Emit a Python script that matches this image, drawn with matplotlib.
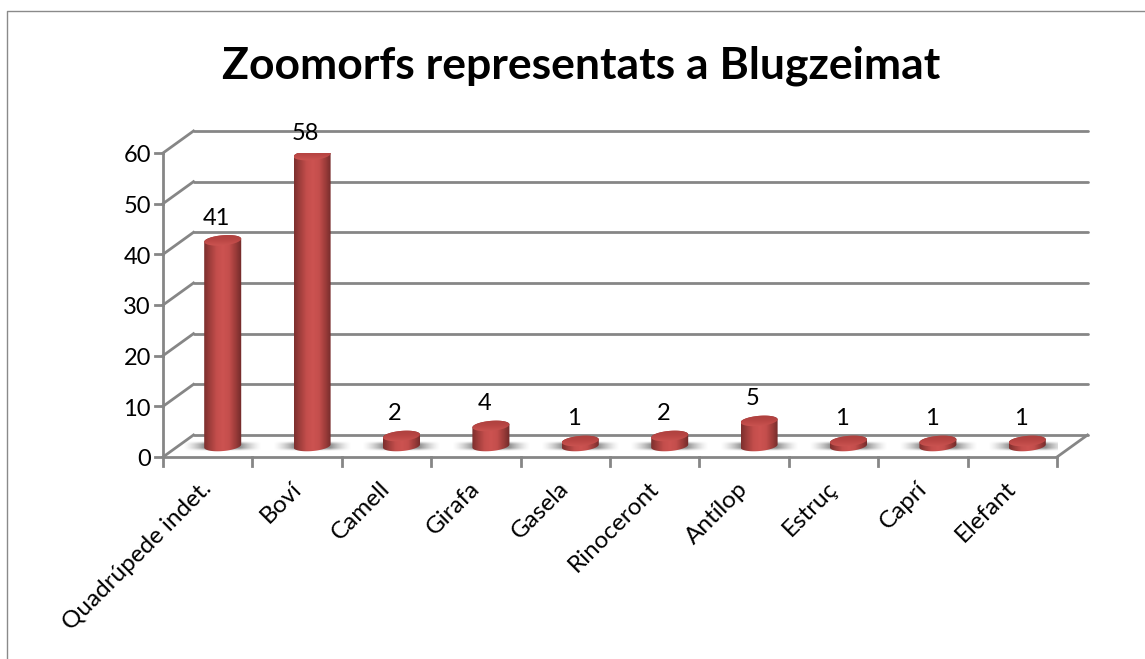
import numpy as np
import matplotlib
matplotlib.use("Agg")
import matplotlib.pyplot as plt
from matplotlib.colors import LinearSegmentedColormap
from matplotlib.patches import PathPatch
from matplotlib.path import Path
from matplotlib.transforms import Affine2D
from matplotlib.lines import Line2D

categories = ["Quadrúpede indet.", "Boví", "Camell", "Girafa", "Gasela",
              "Rinoceront", "Antílop", "Estruç", "Caprí", "Elefant"]
values = [41, 58, 2, 4, 1, 2, 5, 1, 1, 1]
y_ticks = [0, 10, 20, 30, 40, 50, 60]
title = "Zoomorfs representats a Blugzeimat"

W, H = 1145, 659
GRID = "#868686"
FONT = "Lato"
plt.rcParams["font.family"] = [FONT, "DejaVu Sans"]

fig = plt.figure(figsize=(W / 100, H / 100), dpi=100)
L, R, T, B = 163, 1057, 153, 457
ax = fig.add_axes([L / W, 1 - B / H, (R - L) / W, (B - T) / H])
ax.set_axis_off()
n = len(categories)


def setlim():
    ax.set_xlim(0, n)
    ax.set_ylim(0, 60)


setlim()
ox, oy = 30.5, 22.0
back = ax.transData + Affine2D().translate(ox, oy)
mid = ax.transData + Affine2D().translate(15, 11)
base = ax.transData

lw = 2.0
kw = dict(color=GRID, lw=lw, clip_on=False, solid_capstyle="round")
for v in y_ticks:
    ax.plot([0, n], [v, v], transform=back, zorder=1, **kw)
    p0 = base.transform((0, v))
    p1 = back.transform((0, v))
    fig.add_artist(Line2D([p0[0] / W, p1[0] / W], [p0[1] / H, p1[1] / H], color=GRID, lw=lw, zorder=1))
    p2 = (p0[0] - 8, p0[1])
    fig.add_artist(Line2D([p2[0] / W, p0[0] / W], [p2[1] / H, p0[1] / H], color=GRID, lw=lw, zorder=1))
    ax.annotate(str(v), (0, v), xytext=(-12, -1), textcoords="offset pixels", ha="right",
                va="center_baseline", fontsize=17, color="black", annotation_clip=False)
ax.plot([0, 0], [0, 60], transform=base, zorder=1, **kw)
ax.plot([0, n], [0, 0], transform=base, zorder=1, **kw)
p0 = base.transform((n, 0))
p1 = back.transform((n, 0))
fig.add_artist(Line2D([p0[0] / W, p1[0] / W], [p0[1] / H, p1[1] / H], color=GRID, lw=lw, zorder=1))
for i in range(n + 1):
    q = base.transform((i, 0))
    fig.add_artist(Line2D([q[0] / W, q[0] / W], [q[1] / H, (q[1] - 9) / H], color=GRID, lw=lw, zorder=1))

for i, c in enumerate(categories):
    ax.annotate(c, (i + 0.5, 0), xytext=(-7, -21), textcoords="offset pixels", rotation=45,
                rotation_mode="anchor", ha="right", va="top", fontsize=17.5,
                annotation_clip=False)

body_cmap = LinearSegmentedColormap.from_list(
    "body", ["#7c2f2e", "#a23f3d", "#c44e4c", "#cc5351", "#c44e4c", "#9c3c3a", "#6f2a29"])
top_cmap = LinearSegmentedColormap.from_list("top", ["#cf5754", "#b84543", "#a83f3d"])

xs = np.linspace(-1, 1, 100)
ys = np.linspace(-1, 1, 20)
ax_x = np.clip((1 - np.abs(xs)) / 0.55, 0, 1) ** 1.4
ax_y = np.clip((1 - np.abs(ys)) / 0.6, 0, 1)
shade = np.zeros((20, 100, 4))
shade[..., :3] = 0.48
shade[..., 3] = np.outer(ax_y, ax_x) * 0.85

half = 0.207
b_y = 1.0
tilt = 0.3
scale = 0.99
t = np.linspace(0, 2 * np.pi, 80)
for i, v in enumerate(values):
    xc = i + 0.5
    ytop = v * scale
    ax.imshow(shade, extent=(xc - 0.44, xc + 0.44, -0.95, 0.85), aspect="auto", transform=mid,
              zorder=2, interpolation="bilinear")
    tb = np.linspace(np.pi, 2 * np.pi, 40)
    tt = np.linspace(0, np.pi, 40)
    xb = xc + half * np.cos(tb)
    yb = b_y * np.sin(tb) + tilt * np.cos(tb)
    xt = xc + half * np.cos(tt)
    yt = ytop + b_y * np.sin(tt) + tilt * np.cos(tt)
    body = PathPatch(Path(np.r_[np.c_[xb, yb], np.c_[xt, yt]]), transform=mid, fc="none", ec="none")
    ax.add_patch(body)
    grad = np.linspace(0, 1, 128).reshape(1, -1)
    im = ax.imshow(grad, extent=(xc - half, xc + half, -2, ytop + 2), aspect="auto", cmap=body_cmap,
                   transform=mid, zorder=3, interpolation="bilinear")
    im.set_clip_path(body)
    top = PathPatch(Path(np.c_[xc + half * np.cos(t), ytop + b_y * np.sin(t) + tilt * np.cos(t)]),
                    transform=mid, fc="none", ec="none")
    ax.add_patch(top)
    grad2 = np.linspace(0, 1, 32).reshape(-1, 1)
    im = ax.imshow(grad2, extent=(xc - half, xc + half, ytop - b_y - 0.4, ytop + b_y + 0.4), origin="lower",
                   aspect="auto", cmap=top_cmap, transform=mid, zorder=4, interpolation="bilinear")
    im.set_clip_path(top)
    ax.annotate(str(v), (xc, ytop), xytext=(8.5, 35), textcoords="offset pixels", ha="center",
                va="center_baseline", fontsize=17, color="black", annotation_clip=False, zorder=5)
setlim()

fig.add_artist(Line2D([7 / W, 7 / W, 1], [0, 1 - 11 / H, 1 - 11 / H], color="#8a8a8a", lw=1.0))
fig.text(581 / W, 1 - 62 / H, title, ha="center", va="center_baseline", fontsize=32, fontweight="bold", color="black")
fig.savefig("out.png", dpi=100)
